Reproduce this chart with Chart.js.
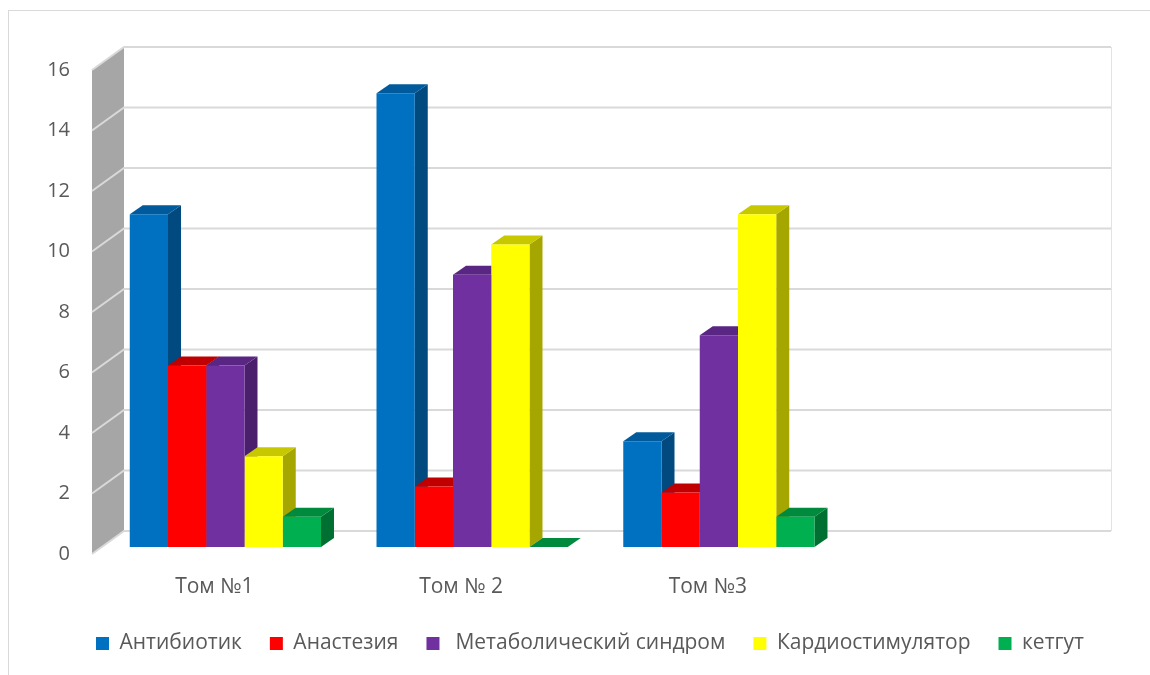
<!DOCTYPE html>
<html>
<head>
<meta charset="utf-8">
<script src="https://cdn.jsdelivr.net/npm/chart.js@4.4.0/dist/chart.umd.min.js"></script>
<style>
  html, body { margin: 0; padding: 0; background: #fff; }
  #wrap { width: 1150px; height: 675px; }
</style>
</head>
<body>
<div id="wrap"><canvas id="chart" width="1150" height="675"></canvas></div>
<script>
// categories (4th slot is empty in the source chart)
const categories = ['Том №1', 'Том № 2', 'Том №3', ''];
const seriesNames = ['Антибиотик', 'Анастезия', ' Метаболический синдром', 'Кардиостимулятор', 'кетгут'];

const antibiotic = [11, 15, 3.5, null];
const anesthesia = [6, 2, 1.8, null];
const metabolic  = [6, 9, 7, null];
const cardio     = [3, 10, 11, null];
const catgut     = [1, 0, 1, null];

const yMin = 0, yMax = 16, yStep = 2;

// front / top / side colours per series
const frontColors = ['#0070c0', '#ff0000', '#7030a0', '#ffff00', '#00b050'];
const topColors   = ['#005a9c', '#c00000', '#5a2684', '#c8c800', '#008a3e'];
const sideColors  = ['#004a80', '#a00000', '#4a1f6c', '#a6a600', '#007032'];

const textColor = '#595959';
const fontFamily = "'Open Sans', 'Noto Sans', sans-serif";

// 3D offsets
const barDepth = { dx: 13, dy: -9 };
const wallFront = { dx: -10, dy: 7 };
const wallBack = { dx: 22, dy: -16 };

const box3d = {
    id: 'box3d',
    beforeDraw(chart) {
        const ctx = chart.ctx;
        ctx.save();
        ctx.strokeStyle = '#d9d9d9';
        ctx.lineWidth = 1;
        ctx.strokeRect(8.5, 10.5, 1300, 800);
        ctx.restore();
    },
    beforeDatasetsDraw(chart) {
        const ctx = chart.ctx;
        const area = chart.chartArea;
        const ys = chart.scales.y;
        const L = area.left, R = area.right;
        const yTop = ys.getPixelForValue(yMax), yBot = ys.getPixelForValue(yMin);

        ctx.save();
        // left wall
        ctx.fillStyle = '#a6a6a6';
        ctx.beginPath();
        ctx.moveTo(L + wallFront.dx, yBot + wallFront.dy);
        ctx.lineTo(L + wallFront.dx, yTop + wallFront.dy);
        ctx.lineTo(L + wallBack.dx, yTop + wallBack.dy);
        ctx.lineTo(L + wallBack.dx, yBot + wallBack.dy);
        ctx.closePath();
        ctx.fill();

        // gridlines: diagonal on the side wall, flat on the back wall
        ctx.strokeStyle = '#d9d9d9';
        ctx.lineWidth = 2;
        for (let v = yMin; v <= yMax; v += yStep) {
            const py = ys.getPixelForValue(v);
            ctx.beginPath();
            ctx.moveTo(L + wallFront.dx, py + wallFront.dy);
            ctx.lineTo(L + wallBack.dx, py + wallBack.dy);
            ctx.lineTo(R + wallBack.dx, py + wallBack.dy);
            ctx.stroke();
        }
        ctx.lineWidth = 1;
        ctx.strokeStyle = '#e3e3e3';
        ctx.beginPath();
        ctx.moveTo(R + wallBack.dx + 0.5, yTop + wallBack.dy);
        ctx.lineTo(R + wallBack.dx + 0.5, yBot + wallBack.dy);
        ctx.stroke();

        // bar sides and tops, left to right so the next bar covers the previous side
        const metas = chart.data.datasets.map((d, i) => chart.getDatasetMeta(i));
        for (let c = 0; c < categories.length; c++) {
            metas.forEach((meta, d) => {
                if (chart.data.datasets[d].data[c] == null) return;
                const bar = meta.data[c];
                const { x, y, base, width } = bar.getProps(['x', 'y', 'base', 'width'], true);
                const l = x - width / 2, r = x + width / 2;
                ctx.fillStyle = sideColors[d];
                ctx.beginPath();
                ctx.moveTo(r, y);
                ctx.lineTo(r + barDepth.dx, y + barDepth.dy);
                ctx.lineTo(r + barDepth.dx, base + barDepth.dy);
                ctx.lineTo(r, base);
                ctx.closePath();
                ctx.fill();
                ctx.fillStyle = topColors[d];
                ctx.beginPath();
                ctx.moveTo(l, y);
                ctx.lineTo(l + barDepth.dx, y + barDepth.dy);
                ctx.lineTo(r + barDepth.dx, y + barDepth.dy);
                ctx.lineTo(r, y);
                ctx.closePath();
                ctx.fill();
            });
        }
        ctx.restore();
    }
};

const seriesData = [antibiotic, anesthesia, metabolic, cardio, catgut];

new Chart(document.getElementById('chart'), {
    type: 'bar',
    data: {
        labels: categories,
        datasets: seriesData.map((data, i) => ({
            label: seriesNames[i],
            data: data,
            backgroundColor: frontColors[i],
            borderWidth: 0,
            categoryPercentage: 0.775,
            barPercentage: 1.0,
        }))
    },
    options: {
        responsive: false,
        devicePixelRatio: 1,
        animation: false,
        layout: { padding: { top: 63, left: 30, right: 0, bottom: 11 } },
        plugins: {
            tooltip: { enabled: false },
            legend: {
                position: 'bottom',
                labels: {
                    color: textColor,
                    boxWidth: 13,
                    boxHeight: 13,
                    padding: 28,
                    font: { family: fontFamily, size: 21 }
                }
            }
        },
        scales: {
            x: {
                grid: { display: false, drawTicks: false },
                border: { display: false },
                ticks: {
                    color: textColor,
                    font: { family: fontFamily, size: 21 },
                    padding: 27,
                    labelOffset: -11,
                    autoSkip: false,
                    maxRotation: 0
                },
                afterFit: s => { s.height = 58; }
            },
            y: {
                min: yMin,
                max: yMax,
                grid: { display: false, drawTicks: false },
                border: { display: false },
                ticks: {
                    stepSize: yStep,
                    color: textColor,
                    font: { family: fontFamily, size: 20 },
                    padding: 32,
                    labelOffset: 7
                },
                afterFit: s => { s.width = 72; }
            },
            yRight: {
                type: 'linear',
                position: 'right',
                grid: { display: false, drawTicks: false },
                border: { display: false },
                ticks: { display: false },
                afterFit: s => { s.width = 61; }
            }
        }
    },
    plugins: [box3d]
});
</script>
</body>
</html>
